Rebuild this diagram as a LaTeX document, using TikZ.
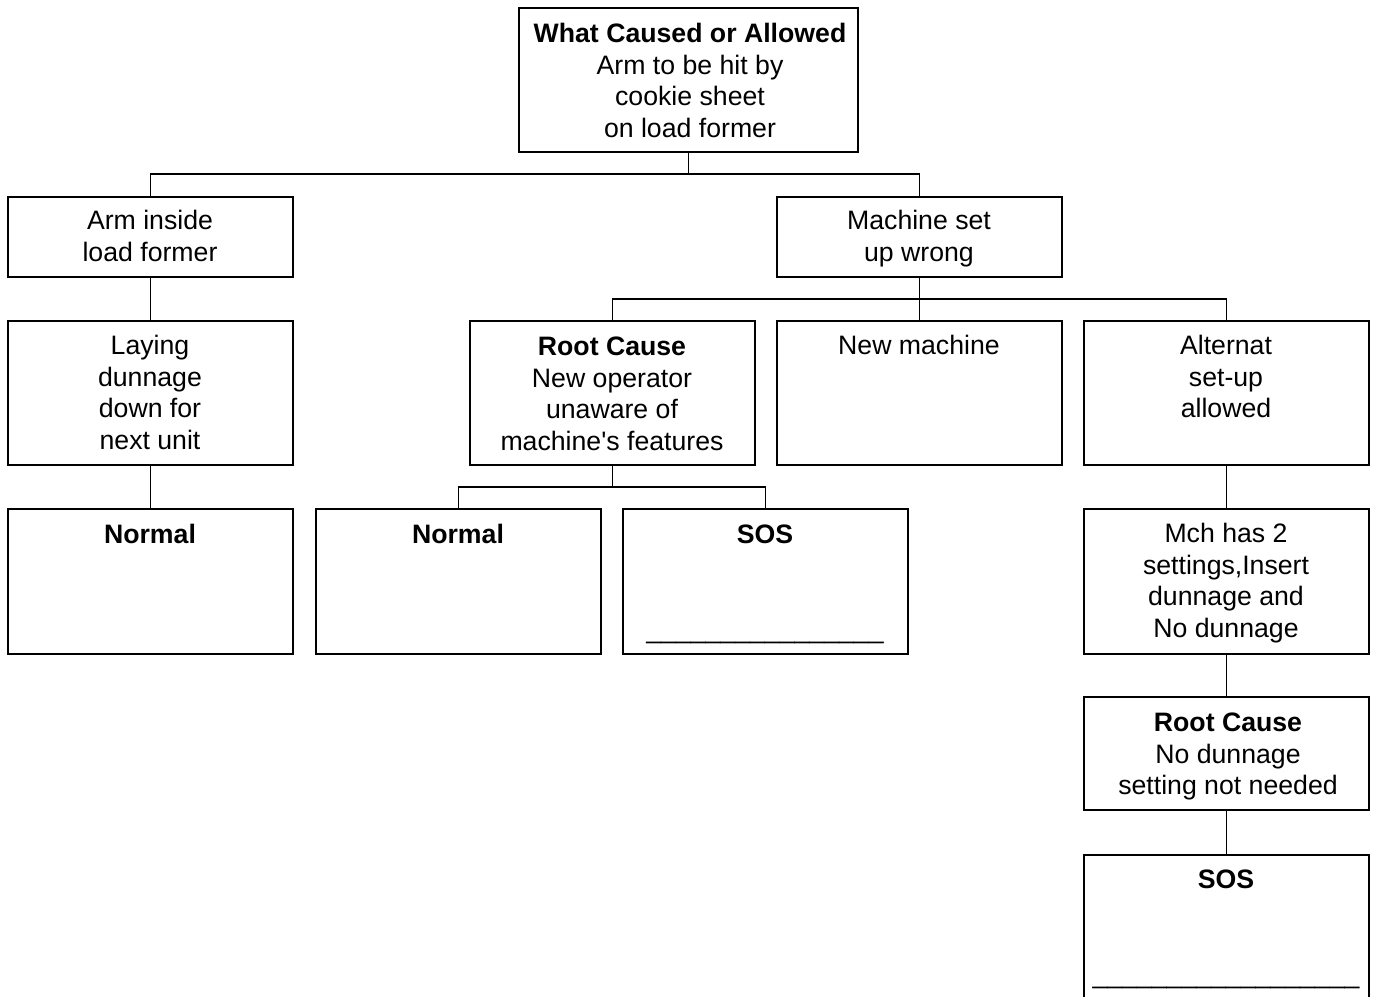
\documentclass[tikz,border=0pt]{standalone}
\usepackage{fontspec}
\setmainfont{Liberation Sans}[Ligatures=TeXOff]
\usetikzlibrary{fit}
\begin{document}
\begin{tikzpicture}[x=0.75pt,y=-0.75pt,
  box/.style={draw, line width=1.1pt, inner sep=0pt, fit={#1}},
  txt/.style={anchor=north, inner sep=0pt, align=center, font=\fontsize{20}{23.6}\selectfont},
  conn/.style={line width=1.1pt}]
\fill[white] (0,0) rectangle (1376,996);
\clip (0,0) rectangle (1376,996);
% boxes
\node[box={(519,8)(858,152)}] (top) {};
\node[box={(8,197)(293,277)}] (arm) {};
\node[box={(777,197)(1062,277)}] (mach) {};
\node[box={(8,321)(293,465)}] (lay) {};
\node[box={(470,321)(755,465)}] (rc1) {};
\node[box={(777,321)(1062,465)}] (newm) {};
\node[box={(1084,321)(1369,465)}] (alt) {};
\node[box={(8,509)(293,654)}] (norm1) {};
\node[box={(316,509)(601,654)}] (norm2) {};
\node[box={(623,509)(908,654)}] (sos1) {};
\node[box={(1084,509)(1369,654)}] (mch) {};
\node[box={(1084,697)(1369,810)}] (rc2) {};
\node[box={(1084,855)(1369,1010)}] (sos2) {};
% texts
\node[txt] (ttop) at (690,20.5) {\strut\textbf{What Caused or Allowed}\\Arm to be hit by\\cookie sheet\\on load former};
\node[txt] (tarm) at (150,207.5) {\strut Arm inside\\load former};
\node[txt] (tmach) at (919,207.5) {\strut Machine set\\up wrong};
\node[txt] (tlay) at (150,332.5) {\strut Laying\\dunnage\\down for\\next unit};
\node[txt] (trc1) at (612,333.5) {\strut\textbf{Root Cause}\\New operator\\unaware of\\machine's features};
\node[txt] (tnewm) at (919,332.5) {\strut New machine};
\node[txt] (talt) at (1226,332.5) {\strut Alternat\\set-up\\allowed};
\node[txt] (tnorm1) at (150,521.5) {\strut\textbf{Normal}};
\node[txt] (tnorm2) at (458,521.5) {\strut\textbf{Normal}};
\node[txt] (tsos1) at (765,521.5) {\strut\textbf{SOS}\\ \\ \\ \_\_\_\_\_\_\_\_\_\_\_\_\_\_\_\_};
\node[txt] (tmch) at (1226,520.5) {\strut Mch has 2\\settings,Insert\\dunnage and\\No dunnage};
\node[txt] (trc2) at (1228,709.5) {\strut\textbf{Root Cause}\\No dunnage\\setting not needed};
\node[txt] (tsos2) at (1226,866.5) {\strut\textbf{SOS}\\ \\ \\ \_\_\_\_\_\_\_\_\_\_\_\_\_\_\_\_\_\_};
% connectors
\coordinate (j1) at (688.5,174);
\coordinate (j2) at (919.5,299);
\coordinate (j3) at (612.5,487);
\draw[conn] (top.south) -- (top.south |- j1);
\draw[conn] (arm.north) |- (j1) -| (mach.north);
\draw[conn] (arm.south) -- (lay.north);
\draw[conn] (lay.south) -- (norm1.north);
\draw[conn] (mach.south) -- (newm.north);
\draw[conn] (rc1.north) |- (j2) -| (alt.north);
\draw[conn] (rc1.south) -- (rc1.south |- j3);
\draw[conn] (norm2.north) |- (j3) -| (sos1.north);
\draw[conn] (alt.south) -- (mch.north);
\draw[conn] (mch.south) -- (rc2.north);
\draw[conn] (rc2.south) -- (rc2.south |- sos2.north);
\end{tikzpicture}
\end{document}
